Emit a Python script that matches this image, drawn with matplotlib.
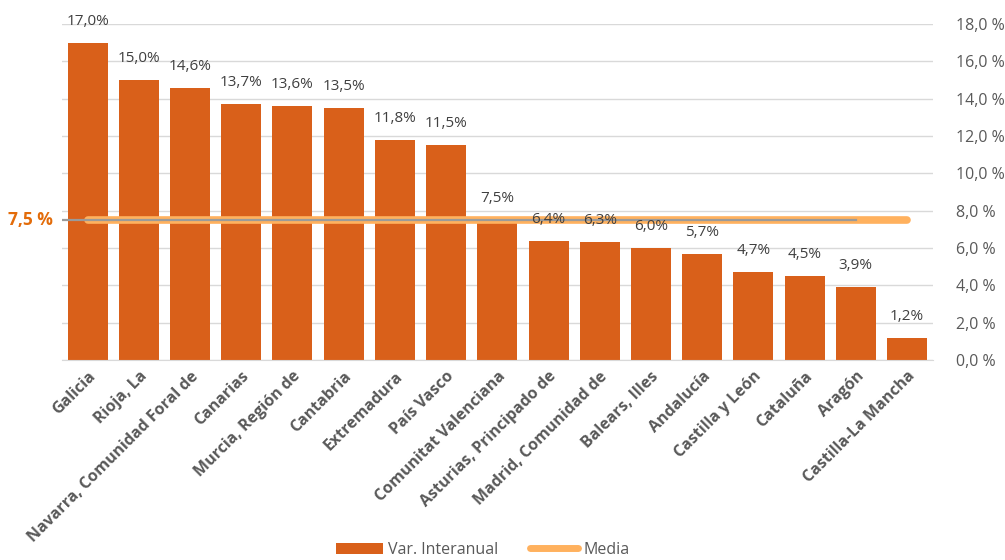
import matplotlib
matplotlib.use("Agg")
import matplotlib.pyplot as plt
from matplotlib.lines import Line2D
from matplotlib.patches import Patch

regions = ["Galicia", "Rioja, La", "Navarra, Comunidad Foral de", "Canarias",
           "Murcia, Región de", "Cantabria", "Extremadura", "País Vasco",
           "Comunitat Valenciana", "Asturias, Principado de", "Madrid, Comunidad de",
           "Balears, Illes", "Andalucía", "Castilla y León", "Cataluña", "Aragón",
           "Castilla-La Mancha"]
var_interanual = [17.0, 15.0, 14.6, 13.7, 13.6, 13.5, 11.8, 11.5, 7.5, 6.4, 6.3,
                  6.0, 5.7, 4.7, 4.5, 3.9, 1.2]
media = [7.5] * len(regions)
y_ticks = [0, 2, 4, 6, 8, 10, 12, 14, 16, 18]

plt.rcParams['font.family'] = ['Open Sans', 'DejaVu Sans']

BAR = '#D9601A'
MEDIA = '#FFB15E'
TXT = '#595959'

fig = plt.figure(figsize=(10.05, 5.6), dpi=100)
ax = fig.add_axes([0.0617, 0.357, 0.8663, 0.6])

x = list(range(len(regions)))
ax.bar(x, var_interanual, width=0.78, color=BAR, zorder=2)
ax.plot(x, media, color=MEDIA, lw=5.5, solid_capstyle='round', zorder=3)
# grey reference line at the mean level
ax.plot([-0.5, 15.0], [7.5, 7.5], color='#9A9A9A', lw=1.6, zorder=4)

for xi, v in zip(x, var_interanual):
    ax.text(xi, v + 0.75, f"{v:.1f}%".replace('.', ','), ha='center', va='bottom',
            fontsize=11, color='#404040', zorder=5)

ax.set_xlim(-0.5, len(regions) - 0.5)
ax.set_ylim(0, 18)
ax.set_yticks(y_ticks)
ax.set_yticklabels([f"{t:.1f} %".replace('.', ',') for t in y_ticks])
ax.yaxis.tick_right()
ax.tick_params(axis='y', length=0, labelsize=11.5, labelcolor=TXT, pad=17)
ax.grid(axis='y', color='#D9D9D9', lw=1, zorder=0)
ax.set_axisbelow(True)

ax.set_xticks(x)
ax.set_xticklabels(regions, rotation=45, ha='right', rotation_mode='anchor',
                   fontsize=11.5, fontweight='bold', color=TXT)
ax.tick_params(axis='x', length=0, pad=6)

for s in ['top', 'right', 'left']:
    ax.spines[s].set_visible(False)
ax.spines['bottom'].set_color('#D9D9D9')

fig.text(0.008, 1 - 220 / 560, "7,5 %", color='#E36C0A', fontsize=12.5,
         fontweight='bold', va='center', ha='left')

handles = [Patch(facecolor=BAR, label='Var. Interanual'),
           Line2D([0], [0], color=MEDIA, lw=5, solid_capstyle='round', label='Media')]
fig.legend(handles=handles, loc='center', bbox_to_anchor=(0.48, 1 - 550 / 560),
           ncol=2, frameon=False, fontsize=11.5, labelcolor=TXT,
           handlelength=3.0, handletextpad=0.3, columnspacing=2.0)

fig.savefig('out.png', dpi=100)
